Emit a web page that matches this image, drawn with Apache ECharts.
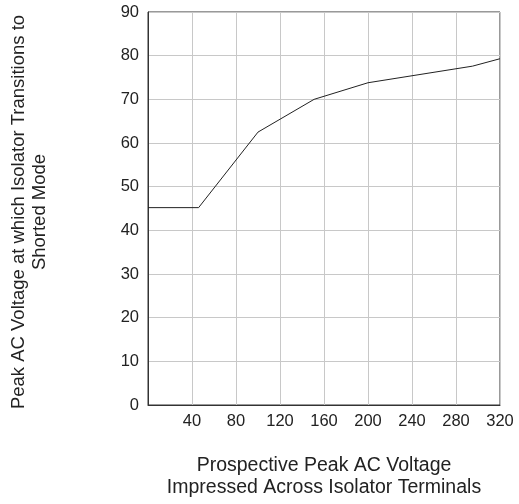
<!DOCTYPE html>
<html><head><meta charset="utf-8">
<script src="https://cdn.jsdelivr.net/npm/echarts@6/dist/echarts.min.js"></script>
<style>html,body{margin:0;padding:0;background:#fff}#c{width:519px;height:504px}</style>
</head><body><div id="c"></div>
<script>
const xValues = [0, 46, 100, 151, 200, 295, 320];
const yValues = [45.2, 45.2, 62.5, 70.0, 73.8, 77.6, 79.3];
const xTicks = [40, 80, 120, 160, 200, 240, 280, 320];
const yTicks = [0, 10, 20, 30, 40, 50, 60, 70, 80, 90];
const xTitle = 'Prospective Peak AC Voltage\nImpressed Across Isolator Terminals';
const yTitle = 'Peak AC Voltage at which Isolator Transitions to\nShorted Mode';

const font = 'Liberation Sans, Arial, Helvetica, sans-serif';
const chart = echarts.init(document.getElementById('c'), null, {renderer: 'canvas'});
chart.setOption({
  animation: false,
  backgroundColor: '#fff',
  grid: {left: 148, right: 19, top: 12, bottom: 98, show: true, borderColor: '#333', borderWidth: 1},
  xAxis: {
    type: 'value', min: 0, max: 320, interval: 40,
    axisLine: {show: true, lineStyle: {color: '#333'}},
    axisTick: {show: false},
    splitLine: {show: true, lineStyle: {color: '#c8c8c8', width: 1}},
    axisLabel: {color: '#222', fontSize: 16.5, fontFamily: font, margin: 8,
      formatter: v => xTicks.includes(v) ? String(v) : ''},
    name: xTitle, nameLocation: 'middle', nameGap: 50,
    nameTextStyle: {color: '#222', fontSize: 19.5, fontFamily: font, lineHeight: 22}
  },
  yAxis: {
    type: 'value', min: 0, max: 90, interval: 10,
    axisLine: {show: true, lineStyle: {color: '#333'}},
    axisTick: {show: false},
    splitLine: {show: true, lineStyle: {color: '#c8c8c8', width: 1}},
    axisLabel: {color: '#222', fontSize: 16.5, fontFamily: font, margin: 9,
      formatter: v => yTicks.includes(v) ? String(v) : ''}
  },
  graphic: [{
    type: 'text', x: 29, y: 212, rotation: Math.PI / 2,
    style: {text: yTitle, fill: '#222', font: '18.5px ' + font, textAlign: 'center', textVerticalAlign: 'middle', lineHeight: 21}
  }],
  series: [{
    type: 'line', data: xValues.map((x, i) => [x, yValues[i]]),
    showSymbol: false, lineStyle: {color: '#222', width: 1}
  }]
});
</script></body></html>
